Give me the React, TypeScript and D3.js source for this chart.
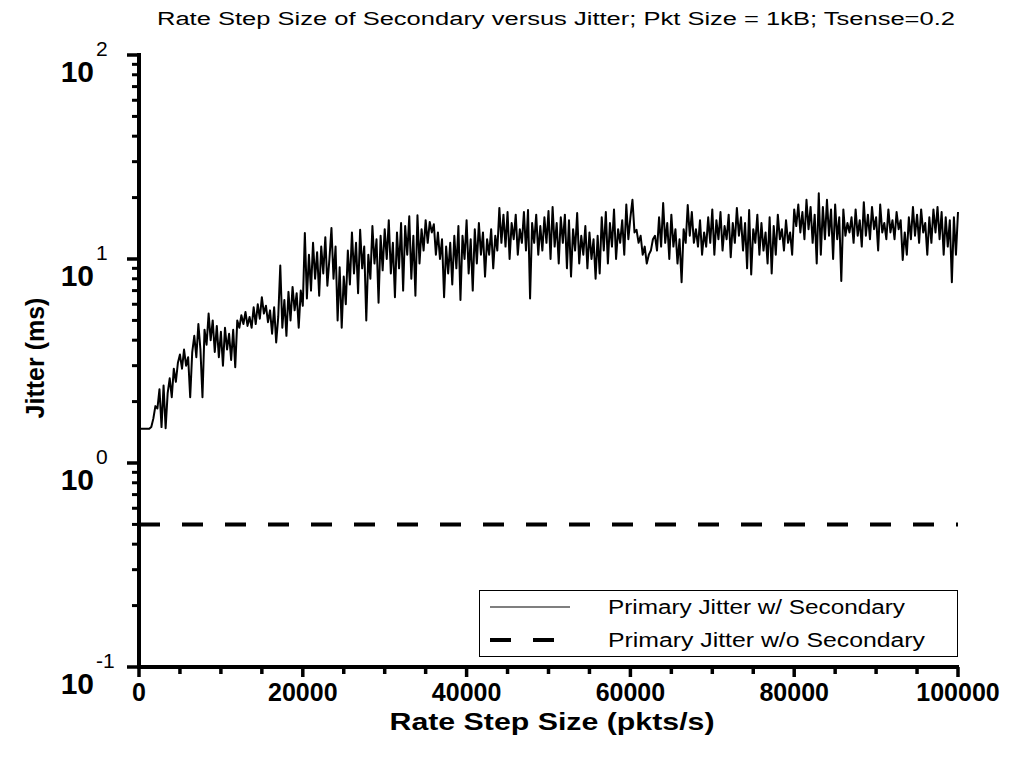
import React from 'react';
import * as d3 from 'd3';

const chartTitle = "Rate Step Size of Secondary versus Jitter; Pkt Size = 1kB; Tsense=0.2";
const xAxisLabel = "Rate Step Size (pkts/s)";
const yAxisLabel = "Jitter (ms)";
const seriesNames = ["Primary Jitter w/ Secondary", "Primary Jitter w/o Secondary"];

// rate step sizes sampled every 250 pkts/s from 0 to 100000
const rateSteps = d3.range(0, 100001, 250);

// Primary jitter with secondary (ms), one value per rate step
const jitterWithSecondary = [
  1.47, 1.47, 1.47, 1.47, 1.47, 1.47, 1.5, 1.65, 1.9, 1.85, 2.3, 1.5, 2.4, 1.48, 2.2, 2.6, 2.1, 2.9, 2.5, 3.1,
  3.4, 2.9, 3.6, 3.0, 3.3, 2.1, 3.5, 4.2, 3.3, 4.8, 3.6, 2.1, 4.5, 3.8, 5.4, 4.0, 5.0, 3.5, 4.7, 3.3,
  4.4, 3.0, 4.6, 3.6, 4.3, 3.2, 4.5, 2.95, 5.0, 4.6, 5.3, 4.8, 5.5, 4.7, 5.2, 4.6, 5.8, 4.8, 6.0, 5.1,
  6.5, 5.4, 5.9, 4.9, 5.6, 4.3, 5.8, 3.9, 5.2, 9.3, 4.6, 6.3, 4.2, 6.9, 5.0, 7.3, 5.6, 6.8, 4.6, 7.0,
  5.9, 13.4, 6.4, 10.5, 7.0, 12.0, 8.0, 10.8, 6.6, 11.5, 8.5, 12.8, 7.4, 10.0, 14.2, 8.0, 11.5, 5.0, 9.1, 4.6,
  8.2, 6.0, 11.0, 7.5, 13.5, 8.5, 12.0, 6.8, 13.9, 9.0, 11.5, 5.0, 10.5, 8.0, 14.5, 9.5, 12.5, 6.1, 13.0, 8.8,
  14.0, 10.0, 15.5, 8.5, 12.0, 6.5, 13.5, 9.0, 15.0, 7.0, 14.5, 10.5, 16.2, 8.0, 13.0, 6.6, 16.4, 9.5, 14.0, 11.0,
  15.5, 12.0, 15.2, 13.5, 14.8, 10.5, 13.5, 10.0, 12.5, 6.5, 11.5, 8.5, 12.0, 7.5, 13.0, 9.0, 14.5, 6.3, 13.0, 10.0,
  15.5, 8.5, 12.5, 7.0, 14.0, 9.5, 15.0, 10.5, 13.5, 8.2, 12.5, 10.5, 14.0, 9.0, 13.0, 11.0, 17.8, 12.0, 16.5, 11.5,
  17.0, 10.0, 15.0, 12.5, 16.5, 10.5, 14.0, 12.0, 17.0, 11.0, 17.4, 6.4, 15.0, 12.0, 16.5, 10.5, 14.5, 11.0, 16.0, 12.0,
  17.2, 10.0, 18.0, 11.5, 15.0, 9.5, 16.0, 12.0, 16.5, 9.0, 15.5, 8.2, 14.0, 11.0, 16.8, 9.5, 13.0, 10.5, 14.5, 9.0,
  13.5, 10.0, 12.5, 8.0, 13.0, 8.5, 16.0, 11.0, 17.0, 9.5, 15.0, 11.5, 17.5, 10.0, 14.0, 12.0, 15.5, 10.5, 18.5, 12.5,
  16.0, 19.5, 13.5, 13.9, 12.0, 13.0, 10.5, 11.5, 9.5, 10.5, 11.0, 12.5, 13.0, 11.0, 16.0, 11.5, 18.8, 12.0, 15.0, 10.0,
  16.5, 11.5, 14.0, 9.5, 12.5, 7.7, 14.0, 12.0, 18.4, 13.0, 17.0, 12.0, 14.0, 11.5, 15.5, 10.5, 13.5, 11.5, 16.0, 12.0,
  17.5, 10.5, 15.5, 12.5, 17.0, 11.0, 14.5, 12.5, 16.5, 10.2, 15.0, 12.0, 17.8, 13.0, 16.0, 11.0, 15.0, 9.0, 17.4, 8.4,
  14.0, 12.0, 16.5, 10.5, 15.0, 11.0, 13.5, 9.5, 16.0, 8.5, 14.5, 10.5, 16.5, 12.5, 14.0, 11.0, 15.5, 12.0, 13.5, 10.5,
  17.5, 14.5, 18.5, 13.5, 17.0, 12.5, 19.5, 14.0, 18.0, 12.0, 16.5, 9.5, 21.0, 10.5, 18.0, 12.5, 19.5, 13.0, 17.5, 10.0,
  18.5, 12.5, 16.0, 7.8, 17.5, 13.0, 15.0, 13.5, 16.0, 12.0, 17.5, 13.0, 15.5, 11.5, 19.0, 13.0, 16.5, 12.5, 18.0, 14.0,
  16.0, 11.0, 18.5, 13.5, 15.0, 12.5, 17.5, 13.5, 15.5, 12.5, 17.0, 14.0, 15.5, 9.9, 13.5, 10.5, 16.0, 12.5, 18.0, 13.0,
  16.5, 12.0, 17.5, 13.5, 15.0, 10.5, 16.0, 12.0, 17.5, 13.5, 18.0, 12.5, 17.0, 10.5, 16.0, 11.5, 15.5, 7.7, 16.0, 10.5,
  17.0,
];

// Primary jitter without secondary (ms), constant across all rate steps
const jitterWithoutSecondary = [0.5, 0.5];
const jitterWithoutSecondarySteps = [0, 100000];

const xTickMajor = [0, 20000, 40000, 60000, 80000, 100000];
const xTickMinor = d3.range(0, 100001, 5000);
const yDecadeExponents = [-1, 0, 1, 2];

export default function App() {
  const W = 1019, H = 759;
  const x = d3.scaleLinear().domain([0, 100000]).range([139, 958]);
  const y = d3.scaleLog().domain([0.1, 100]).range([667, 55]);

  const solidPts: [number, number][] = rateSteps.map((r, i) => [r, jitterWithSecondary[i]]);
  const dashedPts: [number, number][] = jitterWithoutSecondarySteps.map((r, i) => [r, jitterWithoutSecondary[i]]);
  const line = d3.line<[number, number]>().x(d => x(d[0])).y(d => y(d[1]));

  const minorY: number[] = [];
  for (let e = -1; e < 2; e++) for (let m = 2; m <= 9; m++) minorY.push(m * Math.pow(10, e));

  const font = "'Liberation Sans', Arial, sans-serif";
  const axisX = x(0);
  const axisY = y(0.1);

  return (
    <svg width={W} height={H} style={{ position: 'absolute', left: 0, top: 0, background: '#fff' }}
      fontFamily={font}>
      <rect x={0} y={0} width={W} height={H} fill="#fff" />
      <text x={556} y={25} fontSize={18} textAnchor="middle" textLength={798} lengthAdjust="spacingAndGlyphs">{chartTitle}</text>

      {/* data */}
      <path d={line(solidPts) || ''} fill="none" stroke="#000" strokeWidth={2} strokeLinejoin="round" />
      <path d={line(dashedPts) || ''} fill="none" stroke="#000" strokeWidth={4} strokeDasharray="21 22" />

      {/* axes */}
      <line x1={axisX} x2={axisX} y1={53} y2={axisY + 2} stroke="#000" strokeWidth={4} />
      <line x1={axisX - 2} x2={x(100000) + 1} y1={axisY} y2={axisY} stroke="#000" strokeWidth={4} />

      {yDecadeExponents.map(e => (
        <line key={'ym' + e} x1={axisX - 12} x2={axisX} y1={y(Math.pow(10, e))} y2={y(Math.pow(10, e))} stroke="#000" strokeWidth={3.5} />
      ))}
      {minorY.map(v => (
        <line key={'yn' + v} x1={axisX - 7} x2={axisX} y1={y(v)} y2={y(v)} stroke="#000" strokeWidth={3} />
      ))}
      {xTickMinor.map(v => (
        <line key={'xn' + v} x1={x(v)} x2={x(v)} y1={axisY} y2={axisY + (xTickMajor.includes(v) ? 10 : 7)} stroke="#000" strokeWidth={3.5} />
      ))}

      {xTickMajor.map(v => (
        <text key={'xl' + v} x={x(v)} y={701} fontSize={25} fontWeight="bold" textAnchor="middle">{String(v)}</text>
      ))}
      {yDecadeExponents.map(e => (
        <g key={'yl' + e}>
          <text x={94} y={y(Math.pow(10, e)) + 27} fontSize={30} fontWeight="bold" textAnchor="end">10</text>
          <text x={96} y={y(Math.pow(10, e)) + 1} fontSize={21}>{String(e)}</text>
        </g>
      ))}

      <text x={552} y={730} fontSize={24} fontWeight="bold" textAnchor="middle" textLength={325} lengthAdjust="spacingAndGlyphs">{xAxisLabel}</text>
      <text transform={`translate(44,358) rotate(-90)`} fontSize={25} fontWeight="bold" textAnchor="middle">{yAxisLabel}</text>

      {/* legend */}
      <rect x={479.5} y={590.5} width={478} height={66} fill="#fff" stroke="#000" strokeWidth={1} />
      <line x1={490} x2={570} y1={607} y2={607} stroke="#000" strokeWidth={1.2} />
      <line x1={490} x2={556} y1={640} y2={640} stroke="#000" strokeWidth={4} strokeDasharray="21 22" />
      <text x={608} y={614} fontSize={20} textLength={297} lengthAdjust="spacingAndGlyphs">{seriesNames[0]}</text>
      <text x={608} y={647} fontSize={20} textLength={317} lengthAdjust="spacingAndGlyphs">{seriesNames[1]}</text>
    </svg>
  );
}
